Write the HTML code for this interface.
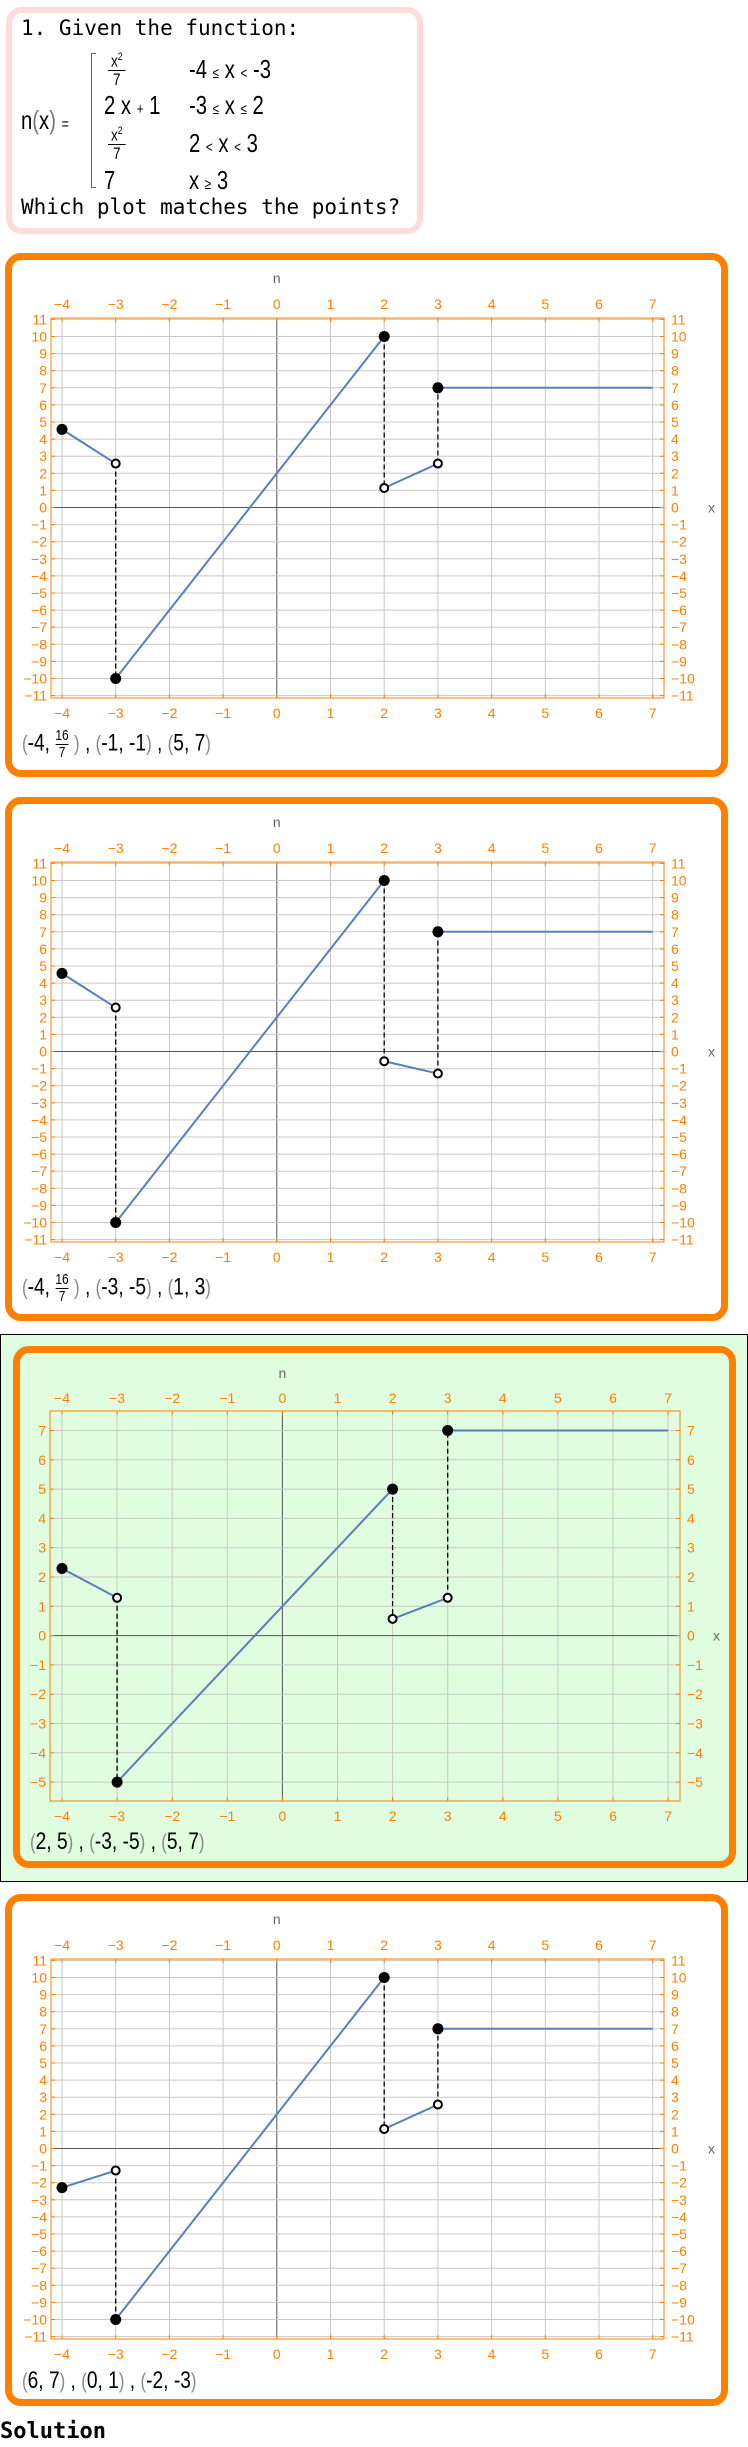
<!DOCTYPE html>
<html><head><meta charset="utf-8">
<style>
body{margin:0;width:748px;height:2447px;position:relative;background:#fff;overflow:hidden;font-family:"Liberation Sans",sans-serif}
.box{position:absolute;box-sizing:border-box}
.q{left:6px;top:7px;width:417px;height:227px;border:6px solid #ffdcdc;border-radius:16px}
.panel{border:7px solid #ff8000;border-radius:16px;left:5px;width:723px}
.mono{font-family:"DejaVu Sans Mono","Liberation Mono",monospace;position:absolute;white-space:nowrap}
.math{position:absolute;font-family:"Liberation Sans Narrow","Liberation Sans",sans-serif;font-size:26px;white-space:nowrap;color:#000;transform:scaleX(0.78);transform-origin:0 0}
.frac{position:absolute;font-family:"Liberation Sans Narrow","Liberation Sans",sans-serif;font-size:17px;text-align:center;line-height:1;transform:scaleX(0.8);transform-origin:0 0}
.cap{position:absolute;font-family:"Liberation Sans Narrow","Liberation Sans",sans-serif;font-size:24px;white-space:nowrap;transform:scaleX(0.8);transform-origin:0 0}
.cap .p{color:#888;font-size:21px}
#plots{position:absolute;left:0;top:0}
</style></head><body>
<div class="box" style="left:0;top:1334px;width:748px;height:548px;background:#e0fde0;border:1px solid #000"></div>
<div class="box q"></div>
<div class="mono" style="left:21px;top:16px;font-size:21px">1. Given the function:</div>
<div class="math" style="left:21px;top:105px">n<span style="color:#777">(</span>x<span style="color:#777">)</span> <span style="font-size:16px">=</span></div>
<div class="box" style="left:91px;top:53px;width:5px;height:135px;border:1px solid #666;border-right:none"></div>
<div class="frac" style="left:108px;top:52px;width:22px"><div style="border-bottom:1px solid #000">x<sup style="font-size:11px">2</sup></div><div>7</div></div>
<div class="math" style="left:189px;top:54px">-4 <span style="font-size:15px">≤</span> x <span style="font-size:15px">&lt;</span> -3</div>
<div class="math" style="left:104px;top:90px">2 x <span style="font-size:15px">+</span> 1</div>
<div class="math" style="left:189px;top:90px">-3 <span style="font-size:15px">≤</span> x <span style="font-size:15px">≤</span> 2</div>
<div class="frac" style="left:108px;top:126px;width:22px"><div style="border-bottom:1px solid #000">x<sup style="font-size:11px">2</sup></div><div>7</div></div>
<div class="math" style="left:189px;top:128px">2 <span style="font-size:15px">&lt;</span> x <span style="font-size:15px">&lt;</span> 3</div>
<div class="math" style="left:104px;top:165px">7</div>
<div class="math" style="left:189px;top:165px">x <span style="font-size:15px">≥</span> 3</div>
<div class="mono" style="left:21px;top:195px;font-size:21px">Which plot matches the points?</div>

<div class="box panel" style="top:253px;height:524px"></div>
<div class="box panel" style="top:797px;height:524px"></div>
<div class="box panel" style="top:1346px;left:13px;width:723px;height:522px"></div>
<div class="box panel" style="top:1894px;height:512px"></div>

<div class="cap" style="left:22px;top:728px"><span class="p">(</span>-4, <span style="display:inline-block;vertical-align:middle;font-size:15px;text-align:center;line-height:1.05"><span style="display:block;border-bottom:1px solid #000">16</span>7</span> <span class="p">)</span> , <span class="p">(</span>-1, -1<span class="p">)</span> , <span class="p">(</span>5, 7<span class="p">)</span></div>
<div class="cap" style="left:22px;top:1272px"><span class="p">(</span>-4, <span style="display:inline-block;vertical-align:middle;font-size:15px;text-align:center;line-height:1.05"><span style="display:block;border-bottom:1px solid #000">16</span>7</span> <span class="p">)</span> , <span class="p">(</span>-3, -5<span class="p">)</span> , <span class="p">(</span>1, 3<span class="p">)</span></div>
<div class="cap" style="left:30px;top:1828px"><span class="p">(</span>2, 5<span class="p">)</span> , <span class="p">(</span>-3, -5<span class="p">)</span> , <span class="p">(</span>5, 7<span class="p">)</span></div>
<div class="cap" style="left:22px;top:2367px"><span class="p">(</span>6, 7<span class="p">)</span> , <span class="p">(</span>0, 1<span class="p">)</span> , <span class="p">(</span>-2, -3<span class="p">)</span></div>
<div class="mono" style="left:0;top:2419px;font-size:22px;font-weight:bold">Solution</div>

<svg id="plots" width="748" height="2447"></svg>
<script>
// x ticks and y tick ranges
const xTicks = [-4,-3,-2,-1,0,1,2,3,4,5,6,7];
const yTicksBig = [-11,-10,-9,-8,-7,-6,-5,-4,-3,-2,-1,0,1,2,3,4,5,6,7,8,9,10,11];
const yTicksSmall = [-5,-4,-3,-2,-1,0,1,2,3,4,5,6,7];
// piece endpoints per option: [xLeft,yLeft,xRight,yRight]
const opt1Left = [-4, 4.57, -3, 2.57];
const opt1Mid = [-3, -10, 2, 10];
const opt1Right = [2, 1.14, 3, 2.57];
const opt1Const = [3, 7, 7, 7];
const opt2Left = [-4, 4.57, -3, 2.57];
const opt2Mid = [-3, -10, 2, 10];
const opt2Right = [2, -0.57, 3, -1.29];
const opt2Const = [3, 7, 7, 7];
const opt3Left = [-4, 2.29, -3, 1.29];
const opt3Mid = [-3, -5, 2, 5];
const opt3Right = [2, 0.57, 3, 1.29];
const opt3Const = [3, 7, 7, 7];
const opt4Left = [-4, -2.29, -3, -1.29];
const opt4Mid = [-3, -10, 2, 10];
const opt4Right = [2, 1.14, 3, 2.57];
const opt4Const = [3, 7, 7, 7];

const NS='http://www.w3.org/2000/svg';
const svg=document.getElementById('plots');
function mk(tag,at,parent){const e=document.createElementNS(NS,tag);for(const k in at)e.setAttribute(k,at[k]);(parent||svg).appendChild(e);return e;}

function drawPlot(id,g,yTicks,left,mid,right,cnst){
  const X=v=>g.x0+(v+4)*g.ux, Y=v=>g.y0-v*g.uy;
  const grp=mk('g',{});
  
  
  xTicks.forEach(t=>{const l=mk('line',{x1:X(t),x2:X(t),y1:g.ft,y2:g.fb,stroke:t===0?'#555':'#c8c8c8','stroke-width':1},grp);
    });
  yTicks.forEach(t=>{const l=mk('line',{x1:g.fl,x2:g.fr,y1:Y(t),y2:Y(t),stroke:t===0?'#555':'#c8c8c8','stroke-width':1},grp);
    });
  const fr=mk('rect',{x:g.fl,y:g.ft,width:g.fr-g.fl,height:g.fb-g.ft,fill:'none',stroke:'#ff8000','stroke-width':1},grp);
  
  const lab={fill:'#ff8000','font-size':14,'font-family':'"Liberation Sans Narrow","Liberation Sans",sans-serif'};
  xTicks.forEach(t=>{
    mk('line',{x1:X(t),x2:X(t),y1:g.ft,y2:g.ft+4,stroke:'#ff8000'},grp);
    mk('line',{x1:X(t),x2:X(t),y1:g.fb,y2:g.fb-4,stroke:'#ff8000'},grp);
    const s=t<0?'−'+(-t):''+t;
    const a=mk('text',Object.assign({x:X(t),y:g.topLab,'text-anchor':'middle'},lab),grp);a.textContent=s;
    
    const b=mk('text',Object.assign({x:X(t),y:g.botLab,'text-anchor':'middle'},lab),grp);b.textContent=s;
    
  });
  yTicks.forEach(t=>{
    mk('line',{x1:g.fl,x2:g.fl+4,y1:Y(t),y2:Y(t),stroke:'#ff8000'},grp);
    mk('line',{x1:g.fr,x2:g.fr-4,y1:Y(t),y2:Y(t),stroke:'#ff8000'},grp);
    const s=t<0?'−'+(-t):''+t;
    const a=mk('text',Object.assign({x:g.fl-4,y:Y(t)+5,'text-anchor':'end'},lab),grp);a.textContent=s;
    
    const b=mk('text',Object.assign({x:g.fr+7,y:Y(t)+5},lab),grp);b.textContent=s;
    
  });
  const n=mk('text',{x:X(0),y:g.nY,'text-anchor':'middle',fill:'#666','font-size':14,'font-family':'"Liberation Sans",sans-serif'},grp);n.textContent='n';
  
  const xl=mk('text',{x:g.xLab,y:Y(0)+5,fill:'#666','font-size':14,'font-family':'"Liberation Sans",sans-serif'},grp);xl.textContent='x';
  
  [[left[2],left[3],mid[1]],[right[0],mid[3],right[1]],[cnst[0],right[3],cnst[1]]].forEach(d=>{
    const l=mk('line',{x1:X(d[0]),x2:X(d[0]),y1:Y(d[1]),y2:Y(d[2]),stroke:'#000','stroke-width':1.3,'stroke-dasharray':'5,3'},grp);
    
  });
  [left,mid,right,cnst].forEach((p,i)=>{
    const l=mk('line',{x1:X(p[0]),y1:Y(p[1]),x2:X(p[2]),y2:Y(p[3]),stroke:'#5a7fb8','stroke-width':2},grp);
    
  });
  const filled=[[left[0],left[1]],[mid[0],mid[1]],[mid[2],mid[3]],[cnst[0],cnst[1]]];
  const open=[[left[2],left[3]],[right[0],right[1]],[right[2],right[3]]];
  filled.forEach(p=>{const c=mk('circle',{cx:X(p[0]),cy:Y(p[1]),r:5.5,fill:'#000'},grp);
    });
  open.forEach(p=>{const c=mk('circle',{cx:X(p[0]),cy:Y(p[1]),r:4,fill:'#fff',stroke:'#000','stroke-width':2},grp);
    });
}
function geomBig(dy){return {x0:62,ux:53.7,y0:507.5+dy,uy:17.1,fl:51,fr:664,ft:318+dy,fb:698+dy,topLab:309+dy,botLab:718+dy,nY:283+dy,xLab:708};}
drawPlot('option-1',geomBig(0),yTicksBig,opt1Left,opt1Mid,opt1Right,opt1Const);
drawPlot('option-2',geomBig(544),yTicksBig,opt2Left,opt2Mid,opt2Right,opt2Const);
drawPlot('option-3',{x0:62,ux:55.1,y0:1635.6,uy:29.3,fl:50,fr:680,ft:1411,fb:1801,topLab:1403,botLab:1821,nY:1378,xLab:713},yTicksSmall,opt3Left,opt3Mid,opt3Right,opt3Const);
drawPlot('option-4',geomBig(1641),yTicksBig,opt4Left,opt4Mid,opt4Right,opt4Const);
</script>
</body></html>
